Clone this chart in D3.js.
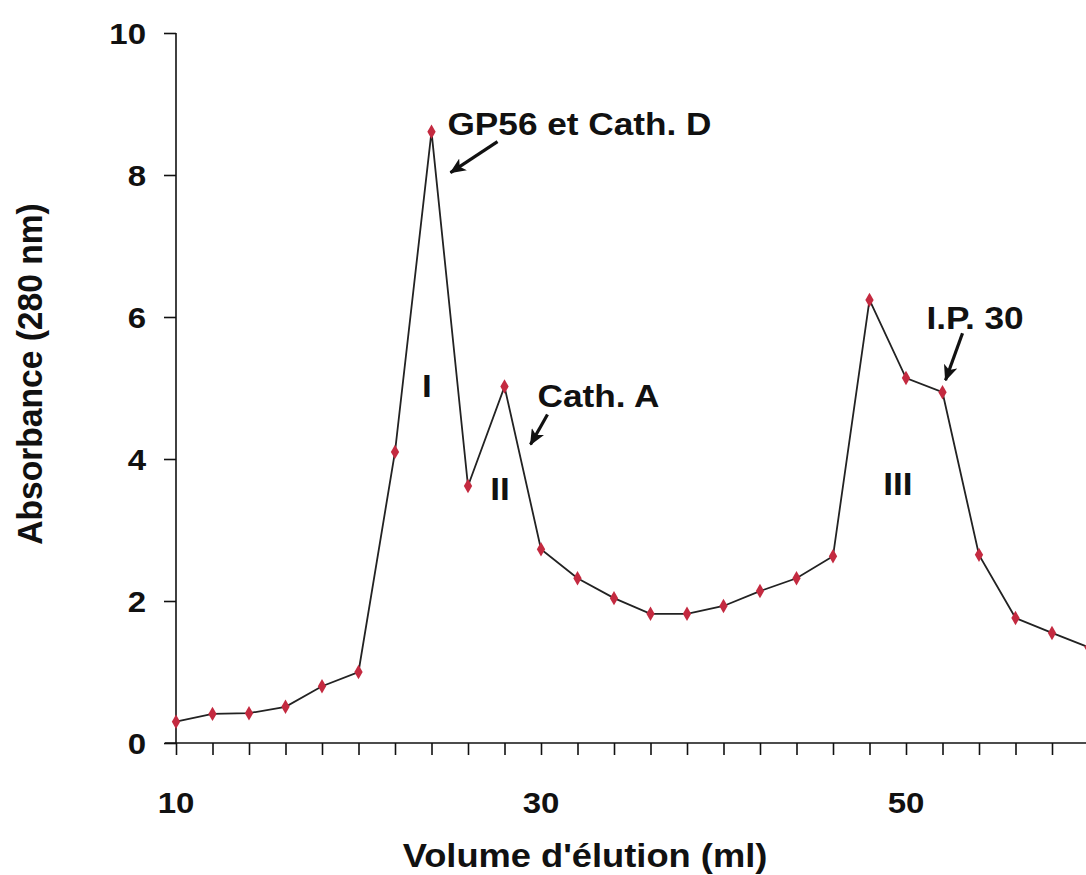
<!DOCTYPE html>
<html>
<head>
<meta charset="utf-8">
<script src="https://cdn.jsdelivr.net/npm/d3@7"></script>
<style>
  body { margin: 0; background: white; overflow: hidden; }
  text { font-family: "Liberation Sans", Arial, sans-serif; font-weight: bold; fill: #111; }
</style>
</head>
<body>
<div id="chart"></div>
<script>
// elution volume (ml) and absorbance at 280 nm
const volumes = [10, 12, 14, 16, 18, 20, 22, 24, 26, 28, 30, 32, 34, 36, 38, 40, 42, 44, 46, 48, 50, 52, 54, 56, 58, 60];
const absorbance = [0.30, 0.41, 0.42, 0.51, 0.80, 1.00, 4.10, 8.61, 3.62, 5.02, 2.73, 2.32, 2.04, 1.82, 1.82, 1.93, 2.14, 2.32, 2.63, 6.24, 5.14, 4.94, 2.65, 1.76, 1.55, 1.35];

const xLabels = [10, 30, 50];
const yLabels = [0, 2, 4, 6, 8, 10];

// peak names and fraction numbers
const peakNames = [
  { text: "GP56 et Cath. D", vol: 24, abs: 8.61 },
  { text: "Cath. A", vol: 28, abs: 5.02 },
  { text: "I.P. 30", vol: 52, abs: 4.94 }
];
const fractions = [
  { text: "I", vol: 23.75, abs: 5.04 },
  { text: "II", vol: 27.75, abs: 3.59 },
  { text: "III", vol: 49.56, abs: 3.66 }
];

const data = volumes.map((v, i) => ({ vol: v, abs: absorbance[i] }));

let width = 1086, height = 875;

let svg = d3.select('#chart')
  .append('svg')
  .attr('width', width)
  .attr('height', height)
  .style('background', 'white');

let x = d3.scaleLinear()
  .domain([10, 60])
  .range([176, 1088.5]);

let y = d3.scaleLinear()
  .domain([0, 10])
  .range([743, 33]);

// stretched bold text, like the scanned figure
function label(px, py, txt, size, anchor) {
  return svg.append('text')
    .attr('transform', `translate(${px},${py}) scale(1.1,1)`)
    .attr('text-anchor', anchor || 'start')
    .style('font-size', size + 'px')
    .text(txt);
}

// x axis: ticks every 2 ml, labels every 20
let xAxis = svg.append('g')
  .attr('transform', `translate(0,${y(0)})`)
  .call(d3.axisBottom(x).tickValues(d3.range(10, 61, 2)).tickSize(12).tickFormat(''));
xAxis.select('.domain').attr('d', `M165,0H${width}`);
xAxis.selectAll('line, path').attr('stroke', '#111').attr('stroke-width', 1.6);

xLabels.forEach(v => label(x(v), 813, v, 30, 'middle'));

// y axis
let yAxis = svg.append('g')
  .attr('transform', `translate(${x(10)},0)`)
  .call(d3.axisLeft(y).tickValues(yLabels).tickSize(12).tickFormat(''));
yAxis.select('.domain').attr('d', `M0,${y(10)}V${y(0)}`);
yAxis.selectAll('line, path').attr('stroke', '#111').attr('stroke-width', 1.6);

yLabels.forEach(v => label(146, y(v) + 11, v, 30, 'end'));

// axis titles
label(585, 867, "Volume d'élution (ml)", 33, 'middle');
svg.append('text')
  .attr('transform', `translate(42,374) rotate(-90) scale(1.05,1.1)`)
  .attr('text-anchor', 'middle')
  .style('font-size', '32px')
  .text('Absorbance (280 nm)');

// the elution curve
let line = d3.line()
  .x(d => x(d.vol))
  .y(d => y(d.abs));

svg.append('path')
  .datum(data)
  .attr('d', line)
  .attr('fill', 'none')
  .attr('stroke', '#222')
  .attr('stroke-width', 1.8);

svg.selectAll('.pt')
  .data(data)
  .enter()
  .append('path')
  .attr('class', 'pt')
  .attr('d', d3.symbol().type(d3.symbolDiamond).size(60))
  .attr('transform', d => `translate(${x(d.vol)},${y(d.abs)})`)
  .attr('fill', '#c42a40');

// arrow head
svg.append('defs').append('marker')
  .attr('id', 'head')
  .attr('markerUnits', 'userSpaceOnUse')
  .attr('viewBox', '0 0 16 14')
  .attr('refX', 15).attr('refY', 7)
  .attr('markerWidth', 16).attr('markerHeight', 14)
  .attr('orient', 'auto')
  .append('path')
  .attr('d', 'M0,0L16,7L0,14L4,7Z')
  .attr('fill', '#111');

// peak names with arrows (offsets in px from the point they mark)
const nameOffsets = [
  { tx: 16, ty: 3, x1: 66, y1: 10, x2: 19, y2: 41 },
  { tx: 33, ty: 20, x1: 43, y1: 28, x2: 26, y2: 58 },
  { tx: -16, ty: -63, x1: 20, y1: -59, x2: 3, y2: -12 }
];
peakNames.forEach((p, i) => {
  let o = nameOffsets[i];
  let px = x(p.vol), py = y(p.abs);
  label(px + o.tx, py + o.ty, p.text, 32, 'start');
  svg.append('line')
    .attr('x1', px + o.x1).attr('y1', py + o.y1)
    .attr('x2', px + o.x2).attr('y2', py + o.y2)
    .attr('stroke', '#111')
    .attr('stroke-width', 3.2)
    .attr('marker-end', 'url(#head)');
});

fractions.forEach(f => label(x(f.vol), y(f.abs) + 12, f.text, 32, 'middle'));
</script>
</body>
</html>
